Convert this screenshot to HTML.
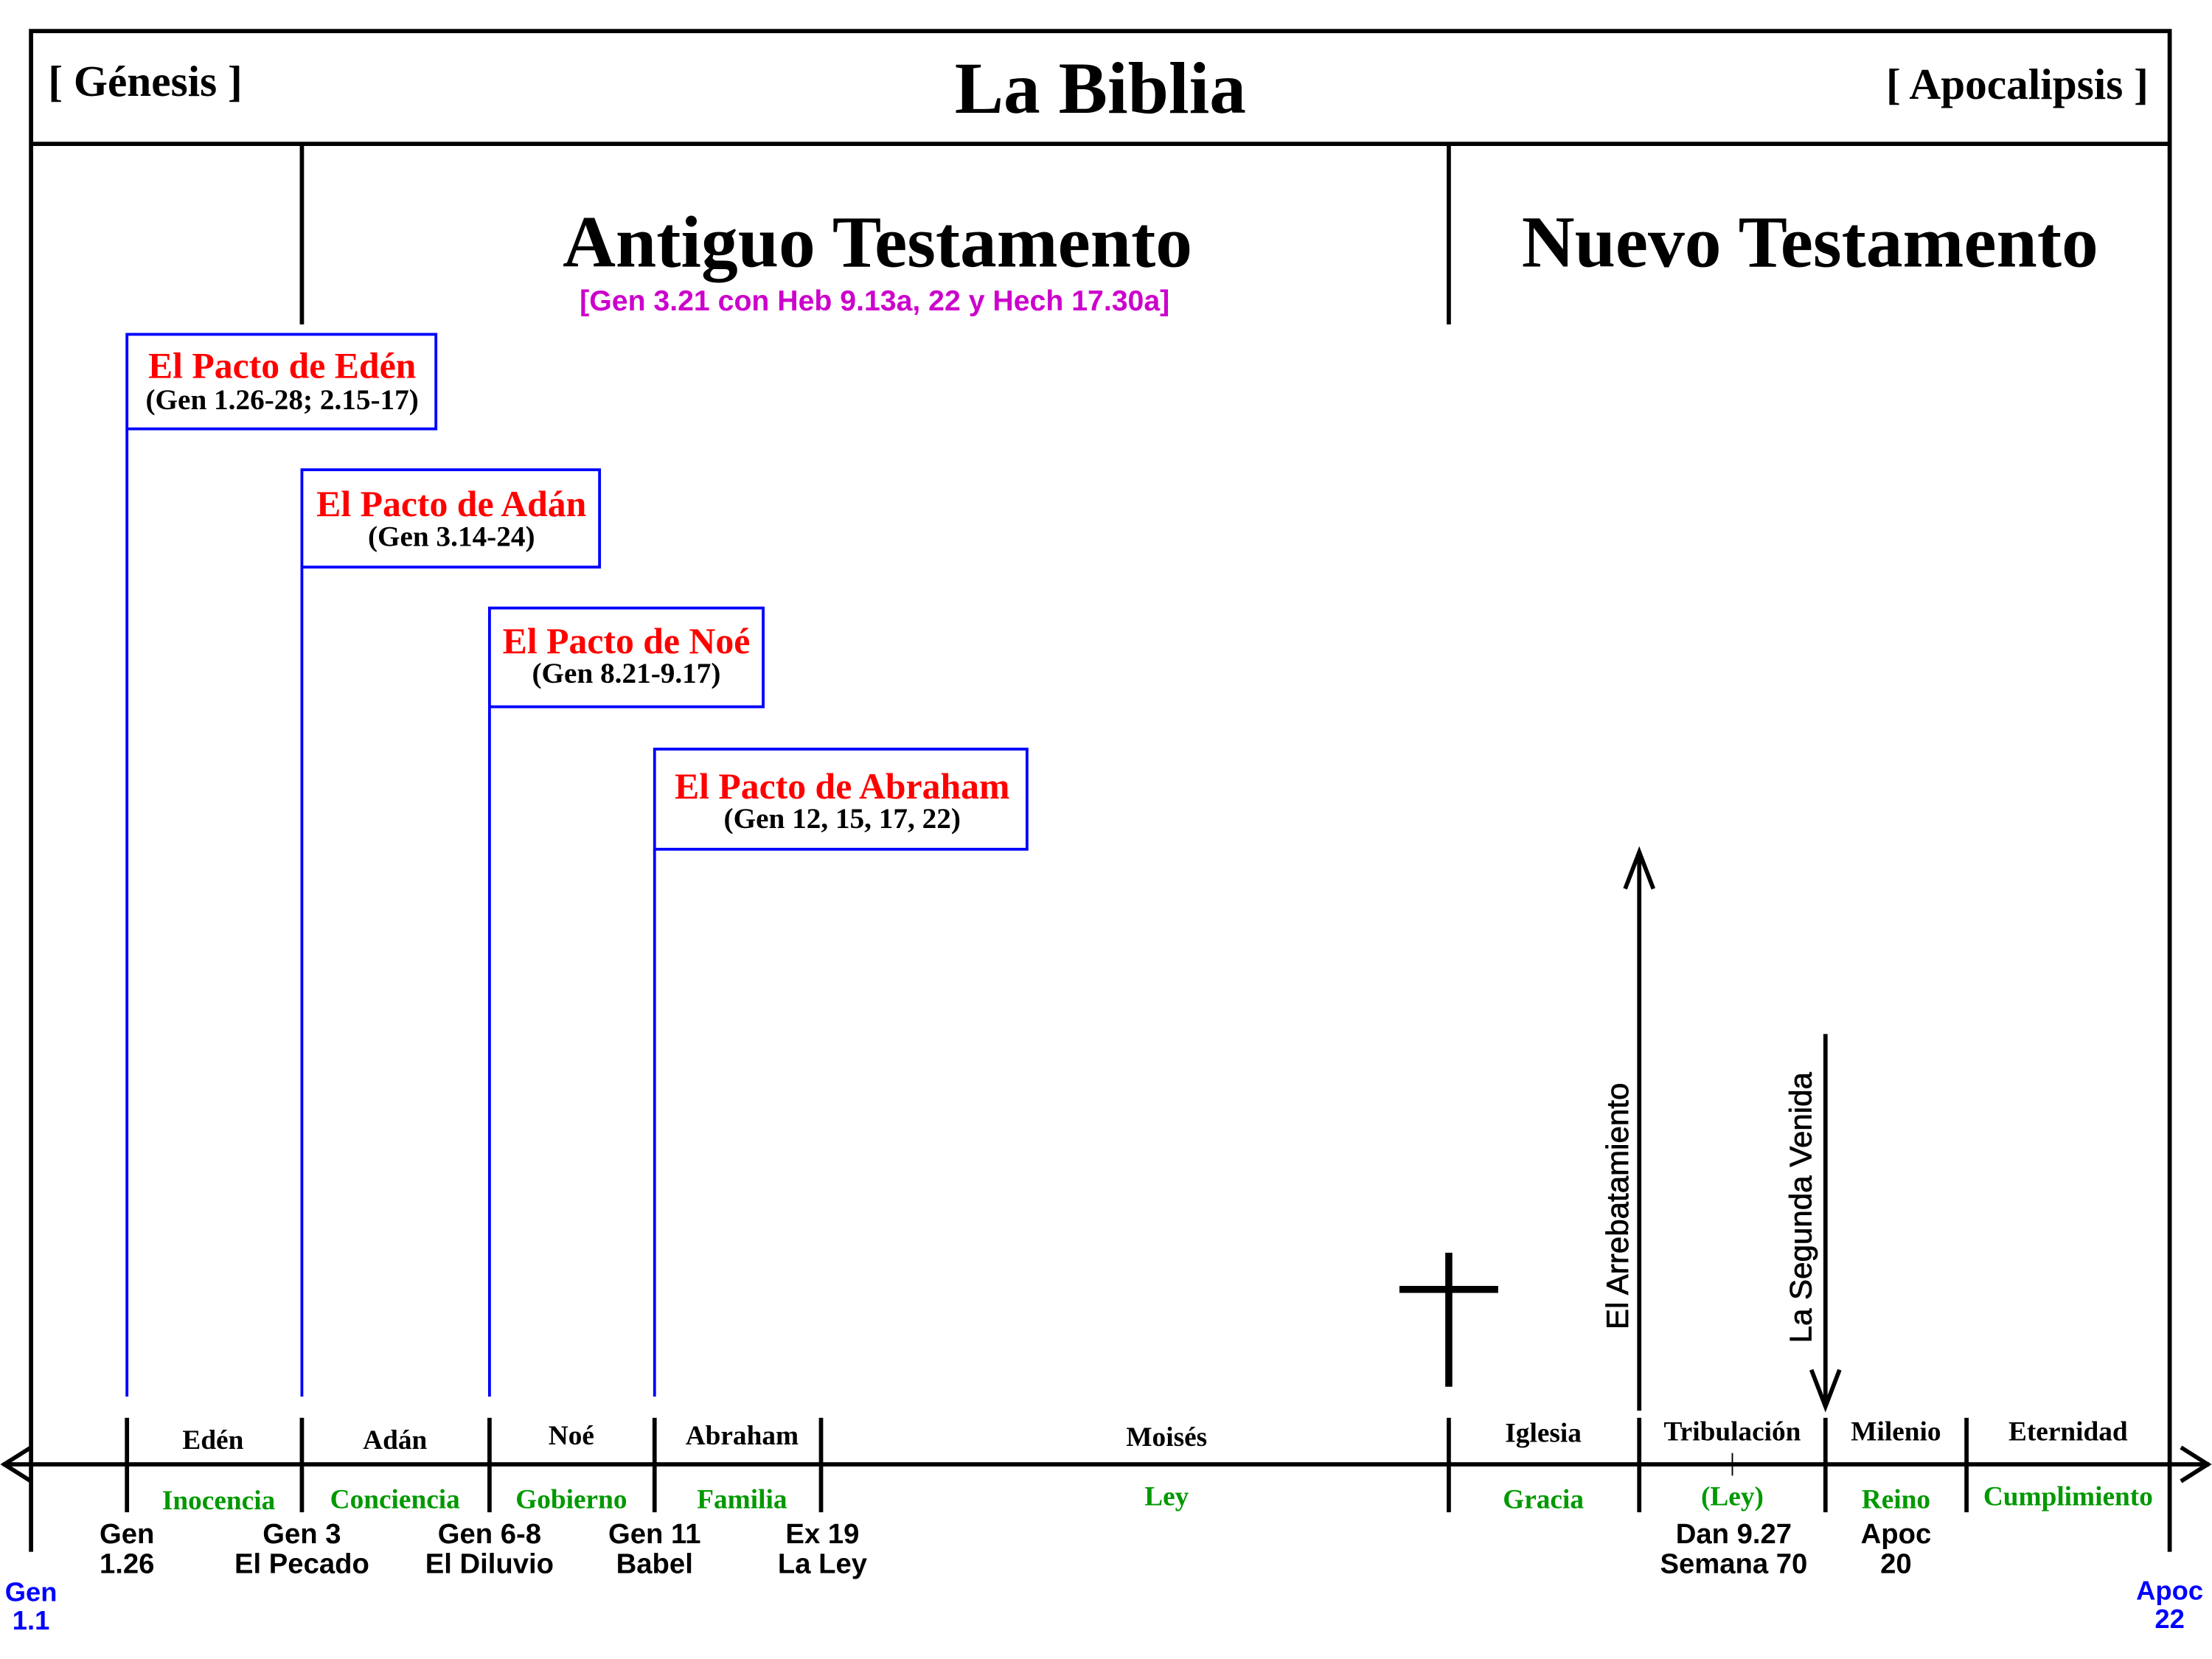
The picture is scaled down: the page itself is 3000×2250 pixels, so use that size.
<!DOCTYPE html>
<html><head><meta charset="utf-8"><style>html,body{margin:0;padding:0;background:#fff}svg{display:block}</style></head>
<body>
<svg width="3000" height="2250" viewBox="0 0 1568 1176" preserveAspectRatio="none" xmlns="http://www.w3.org/2000/svg">
<rect width="1568" height="1176" fill="#fff"/>
<g stroke="#000" stroke-width="3" fill="none">
<polyline points="22,1100 22,22 1538,22 1538,1100"/>
<line x1="22" y1="102" x2="1538" y2="102"/>
<line x1="214" y1="102" x2="214" y2="230"/>
<line x1="1027" y1="102" x2="1027" y2="230"/>
<line x1="2" y1="1038" x2="1566" y2="1038"/>
<polyline points="22,1026 3,1038 22,1050"/>
<polyline points="1546,1026 1565,1038 1546,1050"/>
<line x1="90" y1="1005" x2="90" y2="1072"/>
<line x1="214" y1="1005" x2="214" y2="1072"/>
<line x1="347" y1="1005" x2="347" y2="1072"/>
<line x1="464" y1="1005" x2="464" y2="1072"/>
<line x1="582" y1="1005" x2="582" y2="1072"/>
<line x1="1027" y1="1005" x2="1027" y2="1072"/>
<line x1="1162" y1="1005" x2="1162" y2="1072"/>
<line x1="1294" y1="1005" x2="1294" y2="1072"/>
<line x1="1394" y1="1005" x2="1394" y2="1072"/>
<line x1="1162" y1="1000" x2="1162" y2="604"/>
<polyline points="1152,630 1162,604 1172,630"/>
<line x1="1294" y1="733" x2="1294" y2="997"/>
<polyline points="1284,971 1294,997 1304,971"/>
<line x1="1228" y1="1030" x2="1228" y2="1046" stroke-width="1"/>
</g>
<g stroke="#000" stroke-width="5">
<line x1="1027" y1="888" x2="1027" y2="983"/>
<line x1="992" y1="914" x2="1062" y2="914"/>
</g>
<g stroke="#00f" stroke-width="2" fill="none">
<line x1="90" y1="304" x2="90" y2="990"/>
<line x1="214" y1="402" x2="214" y2="990"/>
<line x1="347" y1="501" x2="347" y2="990"/>
<line x1="464" y1="602" x2="464" y2="990"/>
<rect x="90" y="237" width="219" height="67"/>
<rect x="214" y="333" width="211" height="69"/>
<rect x="347" y="431" width="194" height="70"/>
<rect x="464" y="531" width="264" height="71"/>
</g>
<g font-family="'Liberation Serif',serif" font-weight="bold" text-anchor="middle">
<text x="780" y="80" font-size="52">La Biblia</text>
<text x="103" y="68" font-size="31">[ Génesis ]</text>
<text x="1430" y="70" font-size="31">[ Apocalipsis ]</text>
<text x="622" y="189" font-size="52">Antiguo Testamento</text>
<text x="1283" y="189" font-size="52">Nuevo Testamento</text>
<g fill="#f00" font-size="26">
<text x="200" y="268">El Pacto de Edén</text>
<text x="320" y="366">El Pacto de Adán</text>
<text x="444" y="463">El Pacto de Noé</text>
<text x="597" y="566">El Pacto de Abraham</text>
</g>
<g font-size="20.5">
<text x="200" y="290">(Gen 1.26-28; 2.15-17)</text>
<text x="320" y="387">(Gen 3.14-24)</text>
<text x="444" y="484">(Gen 8.21-9.17)</text>
<text x="597" y="587">(Gen 12, 15, 17, 22)</text>
</g>
<g font-size="19.5">
<text x="151" y="1027">Edén</text>
<text x="280" y="1027">Adán</text>
<text x="405" y="1024">Noé</text>
<text x="526" y="1024">Abraham</text>
<text x="827" y="1025">Moisés</text>
<text x="1094" y="1022">Iglesia</text>
<text x="1228" y="1021">Tribulación</text>
<text x="1344" y="1021">Milenio</text>
<text x="1466" y="1021">Eternidad</text>
</g>
<g font-size="19.5" fill="#090">
<text x="155" y="1070">Inocencia</text>
<text x="280" y="1069">Conciencia</text>
<text x="405" y="1069">Gobierno</text>
<text x="526" y="1069">Familia</text>
<text x="827" y="1067">Ley</text>
<text x="1094" y="1069">Gracia</text>
<text x="1228" y="1067">(Ley)</text>
<text x="1344" y="1069">Reino</text>
<text x="1466" y="1067">Cumplimiento</text>
</g>
</g>
<g font-family="'Liberation Sans',sans-serif" font-weight="bold" text-anchor="middle">
<text x="620" y="220" font-size="20.5" fill="#c0c">[Gen 3.21 con Heb 9.13a, 22 y Hech 17.30a]</text>
<g font-size="20">
<text x="90" y="1094">Gen</text><text x="90" y="1115">1.26</text>
<text x="214" y="1094">Gen 3</text><text x="214" y="1115">El Pecado</text>
<text x="347" y="1094">Gen 6-8</text><text x="347" y="1115">El Diluvio</text>
<text x="464" y="1094">Gen 11</text><text x="464" y="1115">Babel</text>
<text x="583" y="1094">Ex 19</text><text x="583" y="1115">La Ley</text>
<text x="1229" y="1094">Dan 9.27</text><text x="1229" y="1115">Semana 70</text>
<text x="1344" y="1094">Apoc</text><text x="1344" y="1115">20</text>
</g>
<g font-size="19" fill="#00f">
<text x="22" y="1135">Gen</text><text x="22" y="1155">1.1</text>
<text x="1538" y="1134">Apoc</text><text x="1538" y="1154">22</text>
</g>
<g font-size="22" font-weight="normal" stroke="#000" stroke-width="0.4">
<text transform="translate(1154,855) rotate(-90)">El Arrebatamiento</text>
<text transform="translate(1284,856) rotate(-90)">La Segunda Venida</text>
</g>
</g>
</svg>
</body></html>
